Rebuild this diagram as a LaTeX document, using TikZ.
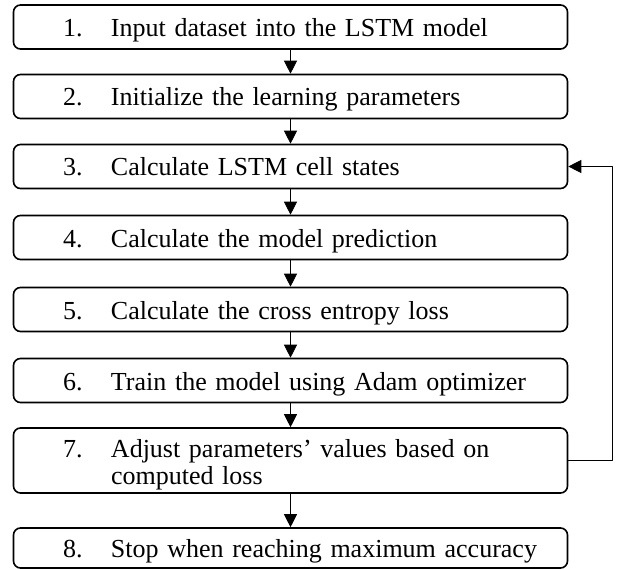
\documentclass[tikz,border=0pt]{standalone}
\usepackage{fontspec}
\setmainfont{Liberation Serif}
\usetikzlibrary{arrows.meta}
\newcommand{\stepnum}[1]{\hspace*{49.5pt}\makebox[48pt][l]{#1.}}

\begin{document}
\begin{tikzpicture}[x=1pt,y=-1pt,line cap=round,line join=round,>={Triangle[length=13pt,width=13pt]},
	stepbox/.style={draw,line width=1.6pt,rounded corners=7pt,minimum width=554pt,minimum height=44pt,inner xsep=0pt,inner ysep=0pt,text width=554pt,align=left,font=\fontsize{26}{27}\selectfont},
	oneline/.style={stepbox,text height=20pt,text depth=1pt},
	flow/.style={->,line width=0.8pt}]
	\useasboundingbox (0,0) rectangle (620,569);
	\node[oneline] (s1) at (290.5,27) {\stepnum{1}Input dataset into the LSTM model};
	\node[oneline] (s2) at (290.5,96.5) {\stepnum{2}Initialize the learning parameters};
	\node[oneline] (s3) at (290.5,166.5) {\stepnum{3}Calculate LSTM cell states};
	\node[oneline] (s4) at (290.5,237.5) {\stepnum{4}Calculate the model prediction};
	\node[oneline] (s5) at (290.5,309.5) {\stepnum{5}Calculate the cross entropy loss};
	\node[oneline] (s6) at (290.5,380.5) {\stepnum{6}Train the model using Adam optimizer};
	\node[stepbox,minimum height=65pt,text height=16pt,text depth=23pt] (s7) at (290.5,460.5) {\stepnum{7}Adjust parameters' values based on\\\hspace*{97.5pt}computed loss};
	\node[oneline,minimum height=40pt] (s8) at (290.5,548) {\stepnum{8}Stop when reaching maximum accuracy};
	\draw[flow] (s1) -- (s2);
	\draw[flow] (s2) -- (s3);
	\draw[flow] (s3) -- (s4);
	\draw[flow] (s4) -- (s5);
	\draw[flow] (s5) -- (s6);
	\draw[flow] (s6) -- (s7);
	\draw[flow] (s7) -- (s8);
	\draw[flow] (s7.east) -- ++(44,0) |- (s3.east);
\end{tikzpicture}
\end{document}
